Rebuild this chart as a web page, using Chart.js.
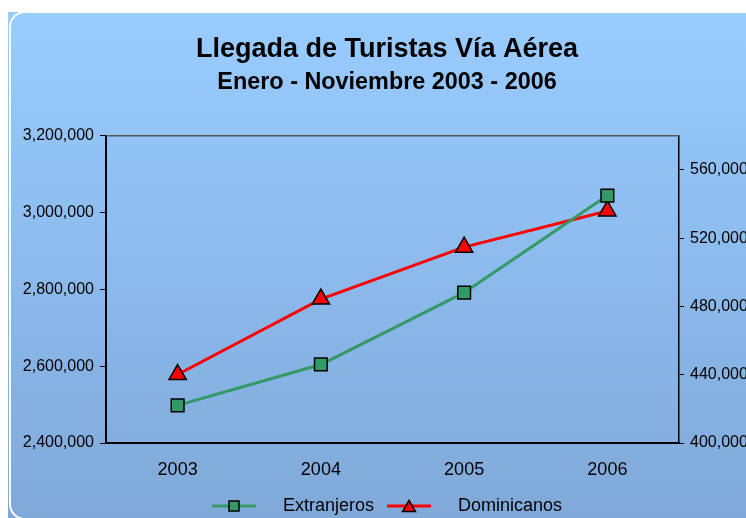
<!DOCTYPE html>
<html>
<head>
<meta charset="utf-8">
<script src="https://cdn.jsdelivr.net/npm/chart.js@4"></script>
<style>
  html, body { margin: 0; padding: 0; background: #fff; overflow: hidden; }
  #wrap { position: relative; width: 746px; height: 518px; overflow: hidden; }
  #myChart { position: absolute; left: 0; top: 0; }
</style>
</head>
<body>
<div id="wrap"><canvas id="myChart" width="780" height="530"></canvas></div>
<script>
// datos
var years = ["2003", "2004", "2005", "2006"];
var extranjeros = [2498000, 2604400, 2791400, 3044200];
var dominicanos = [440100, 484300, 514700, 535900];
var leftTicks = [2400000, 2600000, 2800000, 3000000, 3200000];
var rightTicks = [400000, 440000, 480000, 520000, 560000];

var green = "#339966";
var red = "#FF0000";

Chart.defaults.font.family = "'Liberation Sans', Arial, sans-serif";
Chart.defaults.color = "#000";

// icono de leyenda: linea + marcador
function legendIcon(color, shape) {
  var c = document.createElement("canvas");
  c.width = 62;
  c.height = 16;
  var x = c.getContext("2d");
  x.strokeStyle = color;
  x.lineWidth = 3;
  x.beginPath();
  x.moveTo(0, 8);
  x.lineTo(44, 8);
  x.stroke();
  x.fillStyle = color;
  x.strokeStyle = "#000";
  x.lineWidth = 1.5;
  x.beginPath();
  if (shape == "rect") {
    x.rect(17, 3, 10, 10);
  } else {
    x.moveTo(22, 2.5);
    x.lineTo(28.5, 13.5);
    x.lineTo(15.5, 13.5);
    x.closePath();
  }
  x.fill();
  x.stroke();
  return c;
}

var fondo = {
  id: "fondo",
  beforeDraw: function (chart) {
    var ctx = chart.ctx;
    ctx.save();
    var g = ctx.createLinearGradient(0, 12, 0, 518);
    g.addColorStop(0, "#99CCFF");
    g.addColorStop(1, "#80A9D9");
    ctx.fillStyle = g;
    ctx.fillRect(8, 12, chart.width, 520);
    ctx.strokeStyle = "#ffffff";
    ctx.lineWidth = 2;
    ctx.beginPath();
    ctx.roundRect(10, 12, 780, 507, 15);
    ctx.stroke();
    ctx.restore();
  },
  afterDatasetsDraw: function (chart) {
    var a = chart.chartArea;
    var ctx = chart.ctx;
    ctx.save();
    ctx.strokeStyle = "#555555";
    ctx.lineWidth = 1.5;
    ctx.beginPath();
    ctx.moveTo(a.left, a.top);
    ctx.lineTo(a.right, a.top);
    ctx.stroke();
    ctx.restore();
  }
};

new Chart("myChart", {
  type: "line",
  data: {
    labels: years,
    datasets: [
      {
        label: "Extranjeros",
        data: extranjeros,
        yAxisID: "y",
        borderColor: green,
        borderWidth: 3,
        pointStyle: "rect",
        pointRadius: 9,
        pointBackgroundColor: green,
        pointBorderColor: "#000",
        pointBorderWidth: 1.5,
        tension: 0
      },
      {
        label: "Dominicanos",
        data: dominicanos,
        yAxisID: "y1",
        borderColor: red,
        borderWidth: 3,
        pointStyle: "triangle",
        pointRadius: 10,
        pointBackgroundColor: red,
        pointBorderColor: "#000",
        pointBorderWidth: 1.5,
        tension: 0
      }
    ]
  },
  options: {
    responsive: false,
    animation: false,
    devicePixelRatio: 1,
    layout: { padding: { left: 8, right: 14, top: 0, bottom: 5 } },
    plugins: {
      title: {
        display: true,
        text: "Llegada de Turistas Vía Aérea",
        font: { size: 27, weight: "bold" },
        padding: { top: 33.8, bottom: 0 }
      },
      subtitle: {
        display: true,
        text: "Enero - Noviembre 2003 - 2006",
        color: "#000",
        font: { size: 23.4, weight: "bold" },
        padding: { top: 2.6, bottom: 38.8 }
      },
      legend: {
        position: "bottom",
        labels: {
          usePointStyle: true,
          pointStyleWidth: 62,
          padding: 13,
          font: { size: 18 },
          generateLabels: function (chart) {
            return chart.data.datasets.map(function (ds, i) {
              return {
                text: ds.label,
                pointStyle: legendIcon(ds.borderColor, ds.pointStyle),
                datasetIndex: i,
                fontColor: "#000",
                lineWidth: 0
              };
            });
          }
        }
      },
      tooltip: { enabled: false }
    },
    scales: {
      x: {
        offset: true,
        grid: { display: false, drawTicks: false },
        border: { display: true, color: "#000", width: 2 },
        ticks: { padding: 16, font: { size: 18 } },
        afterFit: function (s) { s.height = 41; }
      },
      y: {
        position: "left",
        min: 2400000,
        max: 3200000,
        afterBuildTicks: function (s) {
          s.ticks = leftTicks.map(function (v) { return { value: v }; });
        },
        grid: { drawOnChartArea: false, color: "#000", tickLength: 6 },
        border: { display: true, color: "#000", width: 2 },
        ticks: {
          padding: 6,
          font: { size: 16 },
          callback: function (v) { return v.toLocaleString("en-US"); }
        },
        afterFit: function (s) { s.width = 98; }
      },
      y1: {
        position: "right",
        min: 400000,
        max: 580000,
        afterBuildTicks: function (s) {
          s.ticks = rightTicks.map(function (v) { return { value: v }; });
        },
        grid: { drawOnChartArea: false, color: "#000", tickLength: 5 },
        border: { display: true, color: "#000", width: 1.5 },
        ticks: {
          padding: 6,
          font: { size: 16 },
          callback: function (v) { return v.toLocaleString("en-US"); }
        },
        afterFit: function (s) { s.width = 87; }
      }
    }
  },
  plugins: [fondo]
});
</script>
</body>
</html>
